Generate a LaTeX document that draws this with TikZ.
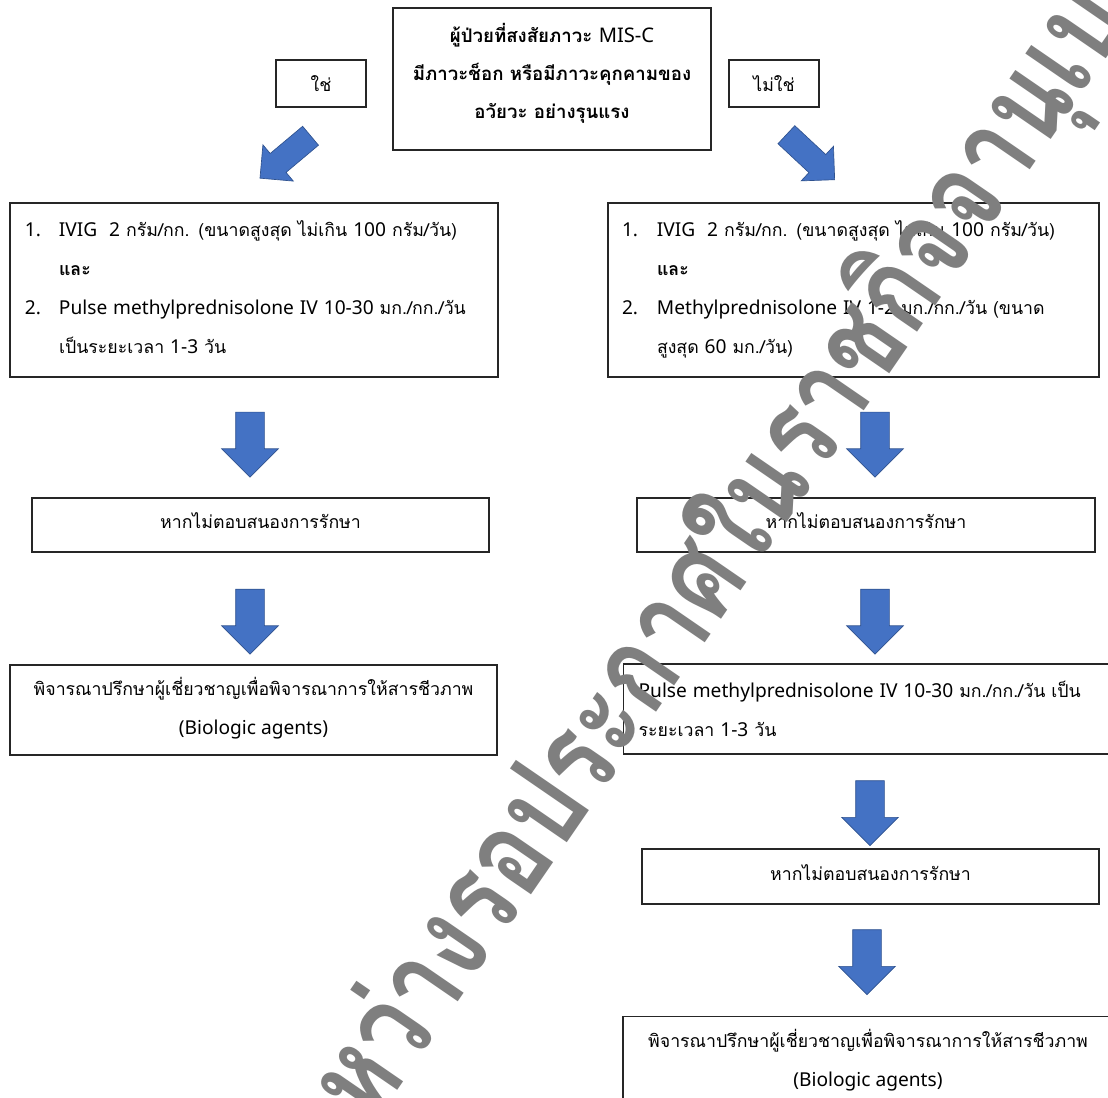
\documentclass[tikz,border=0pt]{standalone}
\usepackage{fontspec}
\setmainfont{Loma}[Script=Thai]
\newfontfamily\latinfont{Noto Sans}[Scale=1.08]
\usetikzlibrary{shapes.arrows}

\definecolor{arrowblue}{HTML}{4472C4}
\definecolor{arrowedge}{HTML}{2F528F}
\definecolor{markgray}{HTML}{7F7F7F}

\newcommand{\lt}[1]{{\latinfont #1}}
\newcommand{\bodyfont}{\fontsize{13.3}{29.25}\selectfont}
\newcommand{\titlefont}{\fontsize{14}{28.5}\selectfont\bfseries}

\tikzset{
	stepbox/.style={draw=black!85, line width=0.9pt, inner xsep=11.25pt, inner ysep=0pt, font=\bodyfont},
	listbox/.style={stepbox, text height=20.5pt, text depth=101pt, minimum height=130.5pt},
	blockarrow/.style={single arrow, draw=arrowedge, fill=arrowblue, line width=0.5pt,
		inner xsep=0pt, single arrow tip angle=90},
	downarrow/.style={blockarrow, inner ysep=10.5pt, minimum height=48.75pt,
		single arrow head extend=10.5pt, rotate=-90},
	sidearrow/.style={blockarrow, inner ysep=9pt, minimum height=49.5pt,
		single arrow head extend=8.5pt}
}

\begin{document}
\begin{tikzpicture}[x=0.75pt, y=-0.75pt]
	\clip (0,0) rectangle (1108,1098);
	\fill[white] (0,0) rectangle (1108,1098);

	% top question and the two answers
	\node[stepbox, font=\titlefont, align=center, text depth=12pt, minimum width=238.5pt, minimum height=106.5pt] (question) at (552,79)
		{ผู้ป่วยที่สงสัยภาวะ \lt{MIS-C}\\มีภาวะช็อก หรือมีภาวะคุกคามของ\\อวัยวะ อย่างรุนแรง};
	\node[stepbox, minimum width=67.5pt, minimum height=35.25pt, inner xsep=0pt] (yes) at (321,83.5) {ใช่};
	\node[stepbox, minimum width=67.5pt, minimum height=35.25pt, inner xsep=0pt] (no) at (774,83.5) {ไม่ใช่};
	\node[sidearrow, rotate=220] (yesarrow) at (290,153) {};
	\node[sidearrow, rotate=-43] (noarrow) at (806,153) {};

	% left column
	\node[listbox, text width=343.5pt] (yesdose) at (254,290) {%
		\begin{tabular}[t]{@{}p{25.5pt}@{}l@{}}
			\lt{1.} & \lt{IVIG\ \ 2} กรัม/กก. (ขนาดสูงสุด ไม่เกิน \lt{100} กรัม/วัน)\\
			        & \textbf{และ}\\
			\lt{2.} & \lt{Pulse methylprednisolone IV 10-30} มก./กก./วัน\\
			        & เป็นระยะเวลา \lt{1-3} วัน
		\end{tabular}};
	\node[downarrow] (yesdown1) at (250,437.5) {};
	\node[stepbox, text depth=6pt, minimum width=342.75pt, minimum height=40.5pt] (yesfail) at (260.5,525) {หากไม่ตอบสนองการรักษา};
	\node[downarrow] (yesdown2) at (250,614.5) {};
	\node[stepbox, align=center, text depth=6pt, minimum width=365.25pt, minimum height=67.5pt] (yesbio) at (253.5,710)
		{พิจารณาปรึกษาผู้เชี่ยวชาญเพื่อพิจารณาการให้สารชีวภาพ\\\lt{(Biologic agents)}};

	% right column
	\node[listbox, inner xsep=10.5pt, text width=347.25pt] (nodose) at (853.5,290) {%
		\begin{tabular}[t]{@{}p{26.25pt}@{}l@{}}
			\lt{\bfseries 1.} & \lt{IVIG\ \ 2} กรัม/กก. (ขนาดสูงสุด ไม่เกิน \lt{100} กรัม/วัน)\\
			                  & \textbf{และ}\\
			\lt{2.}           & \lt{Methylprednisolone IV 1-2} มก./กก./วัน (ขนาด\\
			                  & สูงสุด \lt{60} มก./วัน)
		\end{tabular}};
	\node[downarrow] (nodown1) at (875,437.5) {};
	\node[stepbox, text depth=6pt, minimum width=343.5pt, minimum height=40.5pt] (nofail) at (866,525) {หากไม่ตอบสนองการรักษา};
	\node[downarrow] (nodown2) at (875,614.5) {};
	\node[stepbox, align=left, text width=352.5pt, minimum height=67.5pt, anchor=west] (nopulse) at (623,709)
		{\lt{Pulse methylprednisolone IV 10-30} มก./กก./วัน เป็น\\ระยะเวลา \lt{1-3} วัน};
	\node[downarrow] (nodown3) at (870,806) {};
	\node[stepbox, text depth=6pt, minimum width=342.75pt, minimum height=41.25pt] (nofail2) at (870.5,876.5) {หากไม่ตอบสนองการรักษา};
	\node[downarrow] (nodown4) at (867,955) {};
	\node[stepbox, align=center, text depth=6pt, minimum width=367.5pt, minimum height=67.5pt] (nobio) at (868,1061.5)
		{พิจารณาปรึกษาผู้เชี่ยวชาญเพื่อพิจารณาการให้สารชีวภาพ\\\lt{(Biologic agents)}};

	% watermark over everything
	\node[font=\fontsize{92}{92}\selectfont\bfseries, text=markgray, rotate=55.5, xscale=0.79, inner sep=0pt] (watermark) at (744,525)
		{ระหว่างรอประกาศในราชกิจจานุเบกษา};
\end{tikzpicture}
\end{document}
